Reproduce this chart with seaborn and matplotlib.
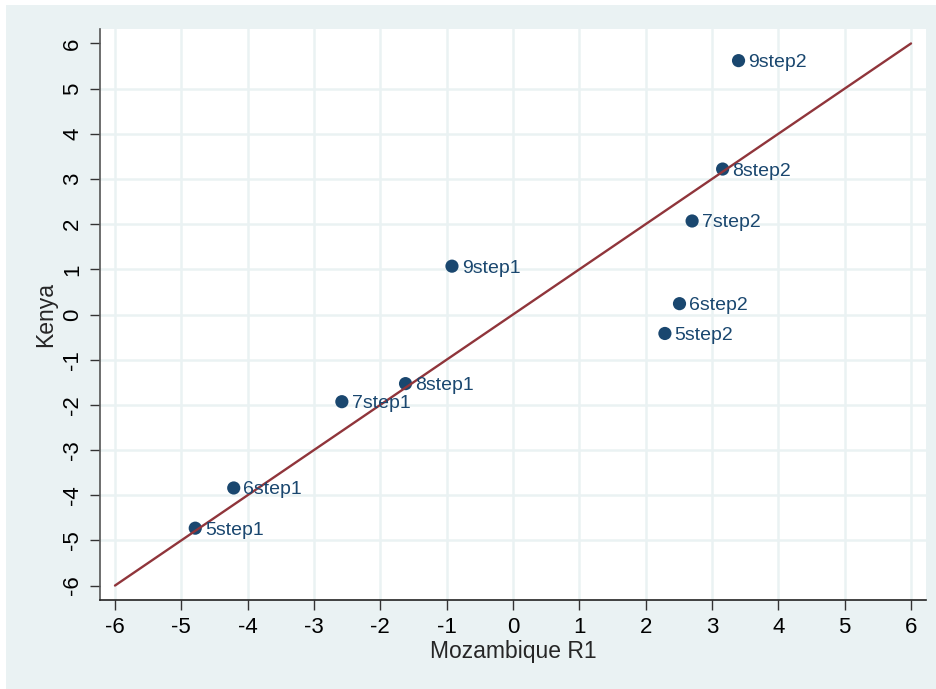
"""
Scatter of Kenya vs Mozambique R1 with labelled points and a 45-degree line.
"""

import pandas as pd
import seaborn as sns
import matplotlib.pyplot as plt
from matplotlib.patches import Rectangle

# data
labels = ['5step1', '6step1', '7step1', '8step1', '9step1',
          '5step2', '6step2', '7step2', '8step2', '9step2']
mozambique = [-4.79, -4.21, -2.58, -1.62, -0.92,
              2.29, 2.51, 2.70, 3.16, 3.40]
kenya = [-4.73, -3.84, -1.93, -1.53, 1.07,
         -0.42, 0.24, 2.07, 3.22, 5.62]
line_x = [-6, 6]
line_y = [-6, 6]
ticks = list(range(-6, 7))

NAVY = '#1A476F'
MAROON = '#90353B'
BG = '#EAF2F3'


def main():
    df = pd.DataFrame({'x': mozambique, 'y': kenya, 'label': labels})
    diag = pd.DataFrame({'x': line_x, 'y': line_y})

    sns.set_theme(style='white')
    plt.rcParams['font.family'] = ['Liberation Sans', 'DejaVu Sans']

    fig = plt.figure(figsize=(9.37, 6.89), dpi=100, facecolor='white')
    # light outer panel, with thin white strip on top and left like the original
    panel = Rectangle((6 / 937, -0.02), 1.1, 1.02 - 5 / 689,
                      transform=fig.transFigure, facecolor=BG,
                      edgecolor='none')
    panel.set_zorder(-10)
    fig.add_artist(panel)
    ax = fig.add_axes([100 / 937, 1 - 600 / 689, 826 / 937, 571 / 689])
    ax.set_zorder(1)
    ax.set_facecolor('white')

    sns.scatterplot(data=df, x='x', y='y', ax=ax, color=NAVY, s=90,
                    edgecolor='none', zorder=3)
    sns.lineplot(data=diag, x='x', y='y', ax=ax, color=MAROON,
                 linewidth=1.7, zorder=4)

    for _, r in df.iterrows():
        ax.annotate(r['label'], (r['x'], r['y']), xytext=(7, 0),
                    textcoords='offset points', ha='left',
                    va='center_baseline', color=NAVY, fontsize=14, zorder=5)

    ax.set_xlim(-6.226, 6.226)
    ax.set_ylim(-6.32, 6.32)
    ax.set_xticks(ticks)
    ax.set_yticks(ticks)
    ax.set_xticklabels([str(t) for t in ticks])
    ax.set_yticklabels([str(t) for t in ticks], rotation=90, va='center')

    # grid: every x tick, y only inside the outer ticks
    for t in ticks:
        ax.axvline(t, color=BG, linewidth=1.8, zorder=1)
    for t in ticks[1:-1]:
        ax.axhline(t, color=BG, linewidth=1.8, zorder=1)

    for side in ['top', 'right']:
        ax.spines[side].set_visible(False)
    ax.spines['left'].set_color('#555555')
    ax.spines['bottom'].set_color('#222222')
    ax.spines['left'].set_linewidth(1.2)
    ax.spines['bottom'].set_linewidth(1.2)

    ax.tick_params(axis='both', direction='out', length=7, width=1,
                   colors='#333333', labelcolor='black', labelsize=16, pad=5,
                   bottom=True, left=True)

    ax.set_xlabel('Mozambique R1', fontsize=16.5, labelpad=2)
    ax.set_ylabel('Kenya', fontsize=16.5, labelpad=4)

    fig.savefig('out.png', dpi=100, facecolor=fig.get_facecolor())
    plt.close(fig)


if __name__ == '__main__':
    main()
